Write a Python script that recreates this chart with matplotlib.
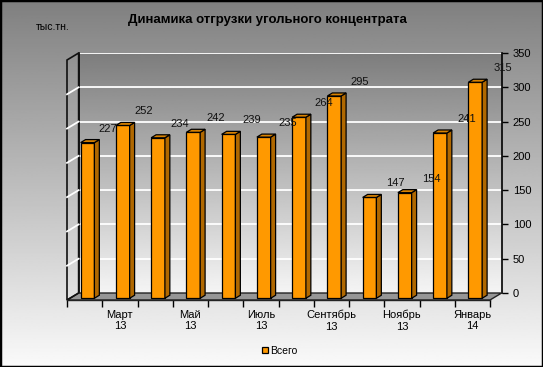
import numpy as np
import matplotlib
matplotlib.use("Agg")
import matplotlib.pyplot as plt
from matplotlib.patches import Polygon, Rectangle

plt.rcParams['font.family'] = ['Liberation Sans', 'DejaVu Sans']

# data
months = ["Февраль\n13", "Март\n13", "Апрель\n13", "Май\n13", "Июнь\n13", "Июль\n13",
          "Август\n13", "Сентябрь\n13", "Октябрь\n13", "Ноябрь\n13", "Декабрь\n13", "Январь\n14"]
values = [227, 252, 234, 242, 239, 235, 264, 295, 147, 154, 241, 315]
series_name = "Всего"
title = "Динамика отгрузки угольного концентрата"
unit_label = "тыс.тн."
y_ticks = [0, 50, 100, 150, 200, 250, 300, 350]

ORANGE = "#FF9900"
SIDE = "#B06800"
TOP = "#D98200"

W, H = 543, 367
fig = plt.figure(figsize=(W / 100, H / 100), dpi=100)

# figure background gradient
bg = fig.add_axes([0, 0, 1, 1])
grad = np.linspace(0.50, 0.98, 256).reshape(-1, 1)
bg.imshow(grad, cmap="gray", vmin=0, vmax=1, aspect="auto", extent=[0, 1, 0, 1], origin="upper")
bg.set_axis_off()

n = len(values)
ymax = y_ticks[-1]
# 3d depth of the plot box in data units
DX, DY = 0.33, 10.2
# front plane position in pixels
fl, fb, fw, fh = 67, 367 - 300, 423, 240
front_pos = [fl / W, fb / H, fw / W, fh / H]
px_x = fw / n
px_y = fh / ymax
back_pos = [(fl + DX * px_x) / W, (fb + DY * px_y) / H, fw / W, fh / H]

# back wall with value axis
axb = fig.add_axes(back_pos)
axb.set_xlim(-0.5, n - 0.5)
axb.set_ylim(0, ymax)
wall = np.linspace(0.49, 0.96, 256).reshape(-1, 1)
axb.imshow(wall, cmap="gray", vmin=0, vmax=1, aspect="auto",
           extent=[-0.5, n - 0.5, 0, ymax], origin="upper", zorder=0)
for t in y_ticks[1:]:
    axb.axhline(t, color="white", lw=1.3, zorder=1)
axb.yaxis.tick_right()
axb.set_yticks(y_ticks)
axb.tick_params(axis="y", direction="out", length=4, width=1, pad=4, labelsize=8, colors="black")
axb.set_xticks([])
for s in ["top", "bottom"]:
    axb.spines[s].set_visible(False)
axb.spines["right"].set_linewidth(1.2)
axb.spines["left"].set_linewidth(1.2)

# front axes with bars
ax = fig.add_axes(front_pos)
ax.patch.set_alpha(0)
ax.set_xlim(-0.5, n - 0.5)
ax.set_ylim(0, ymax)
for s in ["top", "left", "right"]:
    ax.spines[s].set_visible(False)
ax.spines["bottom"].set_linewidth(1.0)
ax.spines["bottom"].set_color("#222222")
ax.set_yticks([])

x = np.arange(n)
ax.set_xticks(x[1::2])
ax.set_xticklabels(months[1::2], fontsize=8, linespacing=1.2)
ax.set_xticks(np.arange(-0.5, n), minor=True)
ax.tick_params(axis="x", which="major", length=0, pad=7)
ax.tick_params(axis="x", which="minor", length=5, width=1, direction="out")

# floor
floor = Polygon([(-0.5, 0), (n - 0.5, 0), (n - 0.5 + DX, DY), (-0.5 + DX, DY)],
                closed=True, facecolor="#969696", edgecolor="#222222", lw=1.0,
                clip_on=False, zorder=1)
ax.add_patch(floor)
# left side wall
side = Polygon([(-0.5, 0), (-0.5 + DX, DY), (-0.5 + DX, ymax + DY), (-0.5, ymax)],
               closed=True, facecolor="none", edgecolor="#111111", lw=1.2,
               clip_on=False, zorder=1)
ax.add_patch(side)
for t in y_ticks[1:-1]:
    ax.plot([-0.5, -0.5 + DX], [t, t + DY], color="white", lw=1.3, clip_on=False, zorder=1)

# bars
f = 0.25
bw = 0.39
bdx, bdy = 0.14, 4.4
offx, base = f * DX, f * DY
ax.bar(x + offx, values, width=bw, bottom=base, color=ORANGE, edgecolor="black",
       lw=0.9, zorder=3, label=series_name)
for xi, v in zip(x, values):
    xl = xi + offx - bw / 2
    xr = xi + offx + bw / 2
    top = base + v
    ax.add_patch(Polygon([(xr, base), (xr + bdx, base + bdy), (xr + bdx, top + bdy), (xr, top)],
                         closed=True, facecolor=SIDE, edgecolor="black", lw=0.9, zorder=3))
    ax.add_patch(Polygon([(xl, top), (xr, top), (xr + bdx, top + bdy), (xl + bdx, top + bdy)],
                         closed=True, facecolor=TOP, edgecolor="black", lw=0.9, zorder=3))
    ax.text(xi + 0.65 + 0.02 * xi, v + 23, str(v), ha="center", va="center",
            fontsize=8, color="#111111", zorder=4)

# texts
fig.text(0.492, 1 - 20 / H, title, ha="center", va="center", fontsize=9.5, fontweight="bold")
fig.text(36 / W, 1 - 27 / H, unit_label, ha="left", va="center", fontsize=7.5)

fig.legend(loc="center", bbox_to_anchor=(0.515, 1 - 351 / H), frameon=False, fontsize=7.5,
           handlelength=0.55, handleheight=0.55, handletextpad=0.2)

# outer border
fig.patches.append(Rectangle((0, 0), 1, 1, transform=fig.transFigure, fill=False,
                             edgecolor="black", lw=2.5, zorder=10))

fig.savefig("out.png", dpi=100)
